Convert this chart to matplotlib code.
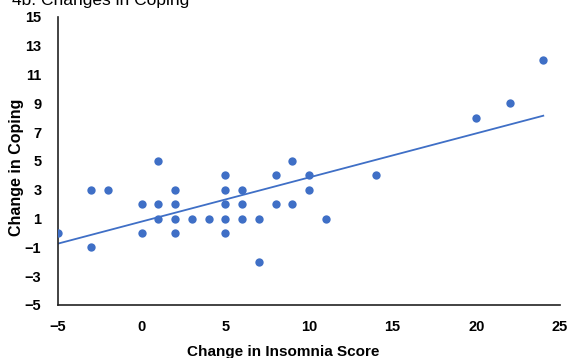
import numpy as np
import matplotlib
matplotlib.use("Agg")
import matplotlib.pyplot as plt

plt.rcParams['font.family'] = ['Liberation Sans', 'DejaVu Sans']

# change in insomnia score vs change in coping
insomnia = [-5, -3, -3, -2, 0, 0, 1, 1, 1, 2, 2, 2, 2, 3, 4,
            5, 5, 5, 5, 5, 6, 6, 6, 7, 7, 8, 8, 9, 9, 10, 10,
            11, 14, 20, 22, 24]
coping = [0, 3, -1, 3, 2, 0, 5, 2, 1, 3, 2, 1, 0, 1, 1,
          4, 3, 2, 1, 0, 3, 2, 1, 1, -2, 4, 2, 5, 2, 4, 3,
          1, 4, 8, 9, 12]

x_ticks = [-5, 0, 5, 10, 15, 20, 25]
y_ticks = [-5, -3, -1, 1, 3, 5, 7, 9, 11, 13, 15]

blue = '#3F6FC6'

fig = plt.figure(figsize=(5.71, 3.58), dpi=100)
ax = fig.add_axes([58 / 571, 1 - 305 / 358, 502 / 571, 288 / 358])

ax.scatter(insomnia, coping, s=36, color=blue, zorder=3, linewidths=0)

# linear trendline over the data range
slope, icept = np.polyfit(insomnia, coping, 1)
xs = np.array([min(insomnia), max(insomnia)])
ax.plot(xs, slope * xs + icept, color=blue, lw=1.3, zorder=2)

ax.set_xlim(-5, 25)
ax.set_ylim(-5, 15)
ax.set_xticks(x_ticks)
ax.set_yticks(y_ticks)
ax.tick_params(length=0, labelsize=10.5)
ax.tick_params(axis='x', pad=11)
ax.tick_params(axis='y', pad=12)
for lab in ax.get_xticklabels() + ax.get_yticklabels():
    lab.set_fontweight('bold')

for side in ['top', 'right']:
    ax.spines[side].set_visible(False)
for side in ['left', 'bottom']:
    ax.spines[side].set_linewidth(1.2)
    ax.spines[side].set_color('#222222')

ax.set_xlabel('Change in Insomnia Score', fontsize=11, fontweight='bold', va='top')
ax.xaxis.set_label_coords(0.448, -0.139)
ax.set_ylabel('Change in Coping', fontsize=11.5, fontweight='bold', va='center')
ax.yaxis.set_label_coords(-0.082, 0.479)

# title is cut off by the top edge in the original
fig.text(12 / 571, 1 - 5 / 358, '4b. Changes in Coping', fontsize=12.5,
         ha='left', va='baseline')

fig.savefig('out.png', dpi=100)
